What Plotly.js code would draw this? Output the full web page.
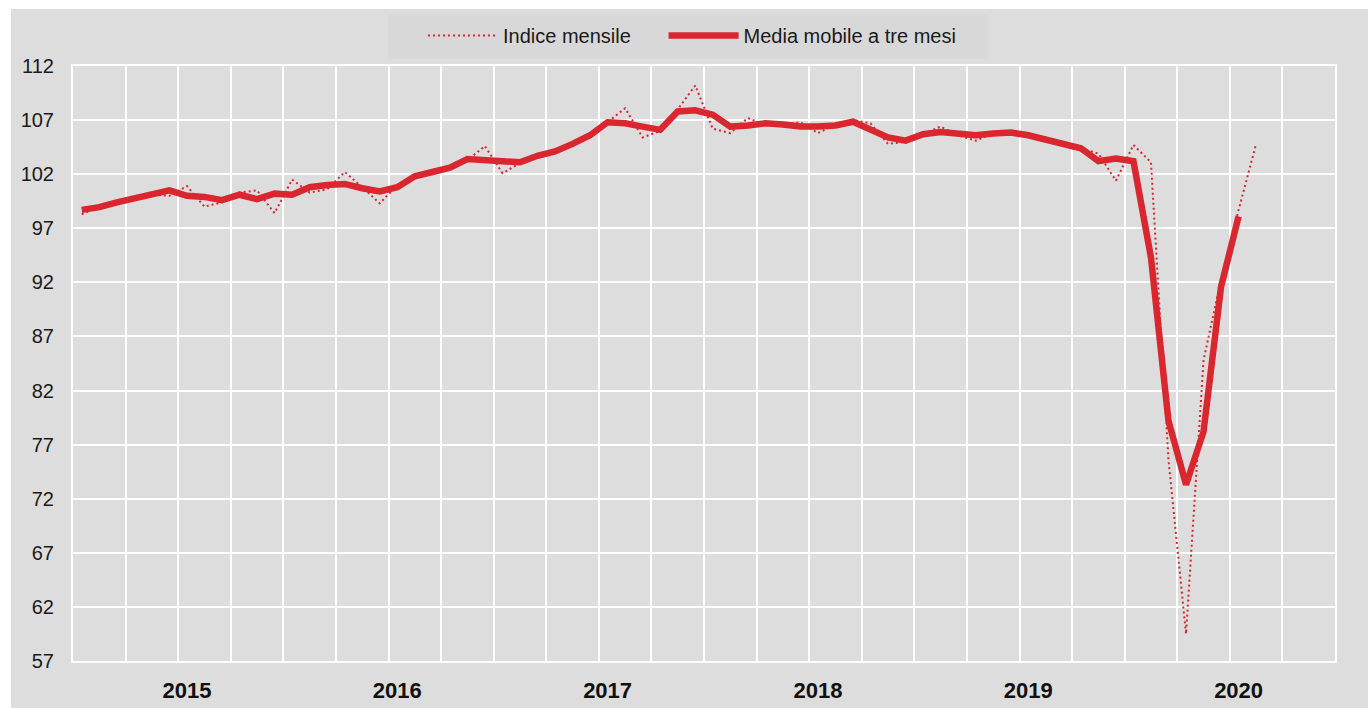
<!DOCTYPE html>
<html>
<head>
<meta charset="utf-8">
<script src="https://cdn.plot.ly/plotly-3.0.1.min.js"></script>
<style>
  html, body { margin: 0; padding: 0; background: #ffffff; width: 1368px; height: 708px; overflow: hidden; }
  #chart { position: absolute; left: 11px; top: 9px; width: 1357px; height: 699px; }
</style>
</head>
<body>
<div id="chart"></div>
<script>
// Monthly categories (Jan 2015 - Aug 2020)
const months = [
  '2015-01','2015-02','2015-03','2015-04','2015-05','2015-06','2015-07','2015-08','2015-09','2015-10','2015-11','2015-12',
  '2016-01','2016-02','2016-03','2016-04','2016-05','2016-06','2016-07','2016-08','2016-09','2016-10','2016-11','2016-12',
  '2017-01','2017-02','2017-03','2017-04','2017-05','2017-06','2017-07','2017-08','2017-09','2017-10','2017-11','2017-12',
  '2018-01','2018-02','2018-03','2018-04','2018-05','2018-06','2018-07','2018-08','2018-09','2018-10','2018-11','2018-12',
  '2019-01','2019-02','2019-03','2019-04','2019-05','2019-06','2019-07','2019-08','2019-09','2019-10','2019-11','2019-12',
  '2020-01','2020-02','2020-03','2020-04','2020-05','2020-06','2020-07','2020-08'
];
// Extra empty slots to the right of the data (through Dec 2020)
const axisEndMonth = '2020-12';

// Indice mensile (monthly index)
const indiceMensile = [
  98.3, 99.0, 99.4, 99.8, 100.1, 100.0, 100.9, 99.0, 99.4, 100.3, 100.5, 98.4,
  101.5, 100.3, 100.6, 102.2, 100.8, 99.3, 101.0, 101.9, 102.3, 102.5, 103.3, 104.6,
  102.1, 103.0, 103.7, 104.2, 104.8, 105.6, 106.8, 108.1, 105.4, 106.0, 108.0, 110.2,
  106.2, 105.8, 107.2, 106.5, 106.6, 106.8, 105.8, 106.6, 107.0, 106.7, 104.8, 105.0,
  105.7, 106.4, 105.6, 105.1, 105.8, 105.9, 105.6, 105.2, 104.8, 104.4, 103.9, 101.4,
  104.7, 103.1, 75.6, 59.5, 84.8, 92.3, 98.7, 104.8
];

// Media mobile a tre mesi (3-month moving average, Jan 2015 - Jul 2020)
const mediaMobile = [
  98.7, 98.95, 99.4, 99.8, 100.1, 100.5, 100.0, 99.9, 99.6, 100.1, 99.7, 100.2,
  100.1, 100.8, 101.0, 101.1, 100.7, 100.4, 100.8, 101.8, 102.2, 102.6, 103.4, 103.3,
  103.2, 103.1, 103.7, 104.1, 104.8, 105.6, 106.8, 106.7, 106.4, 106.1, 107.8, 107.9,
  107.5, 106.4, 106.5, 106.7, 106.6, 106.4, 106.4, 106.5, 106.85, 106.1, 105.4, 105.1,
  105.7, 105.9, 105.8, 105.6, 105.75, 105.85, 105.6, 105.2, 104.8, 104.4, 103.2, 103.45,
  103.2, 94.3, 79.2, 73.3, 78.2, 91.6, 98.1
];

const yearLabels = ['2015', '2016', '2017', '2018', '2019', '2020'];
const seriesNames = ['Indice mensile', 'Media mobile a tre mesi'];

// ---- build ----
const xIdx = months.map((m, i) => i);
const nSlots = (parseInt(axisEndMonth.slice(0, 4)) - parseInt(months[0].slice(0, 4))) * 12
             + parseInt(axisEndMonth.slice(5)) - parseInt(months[0].slice(5)) + 1;
const yearTickVals = yearLabels.map(y => months.indexOf(y + '-07'));

const FONT = "'Liberation Sans Narrow', 'Arial Narrow', 'Liberation Sans', Arial, sans-serif";
const RED = '#d9262f';
const NBSP_PAD = '\u00a0'.repeat(5);

const traces = [
  {
    x: xIdx, y: indiceMensile, name: seriesNames[0] + NBSP_PAD,
    type: 'scatter', mode: 'lines',
    line: { color: RED, width: 2, dash: '2px,3px' },
    hoverinfo: 'skip'
  },
  {
    x: xIdx.slice(0, mediaMobile.length), y: mediaMobile, name: seriesNames[1],
    type: 'scatter', mode: 'lines',
    line: { color: RED, width: 6.5 },
    hoverinfo: 'skip'
  }
];

const layout = {
  width: 1357, height: 699,
  paper_bgcolor: '#dddddd', plot_bgcolor: '#dddddd',
  margin: { l: 62, r: 33, t: 57, b: 47, autoexpand: false },
  font: { family: FONT, color: '#1a1a1a' },
  showlegend: true,
  legend: {
    orientation: 'h',
    x: 0.2773, xanchor: 'left',
    y: 1.084, yanchor: 'top',
    bgcolor: 'rgba(0,0,0,0)',
    font: { family: FONT, size: 20, color: '#1a1a1a' },
    itemwidth: 70,
    tracegroupgap: 0
  },
  // legend box background
  shapes: [{
    type: 'rect', xref: 'paper', yref: 'paper',
    x0: 0.2496, x1: 0.725, y0: 1.0118, y1: 1.0874,
    fillcolor: '#d8d8d8', line: { width: 0 }, layer: 'below'
  }],
  xaxis: {
    range: [-0.5, nSlots - 0.5],
    tickmode: 'array', tickvals: yearTickVals, ticktext: yearLabels,
    showgrid: false, zeroline: false,
    showline: true, linecolor: '#ffffff', linewidth: 2, mirror: true,
    ticks: '', ticklabelstandoff: 9,
    tickfont: { family: FONT, size: 22, color: '#111111', weight: 'bold' },
    minor: { tickmode: 'linear', tick0: -0.5, dtick: 3, showgrid: true, gridcolor: '#ffffff', gridwidth: 2, ticks: '' },
    fixedrange: true
  },
  yaxis: {
    range: [57, 112],
    tickmode: 'linear', tick0: 57, dtick: 5,
    showgrid: true, gridcolor: '#ffffff', gridwidth: 2,
    zeroline: false,
    showline: true, linecolor: '#ffffff', linewidth: 2, mirror: true,
    ticks: '', ticklabelstandoff: 13,
    tickfont: { family: FONT, size: 20, color: '#1a1a1a' },
    fixedrange: true
  }
};

Plotly.newPlot('chart', traces, layout, { displayModeBar: false, staticPlot: true });
</script>
</body>
</html>
